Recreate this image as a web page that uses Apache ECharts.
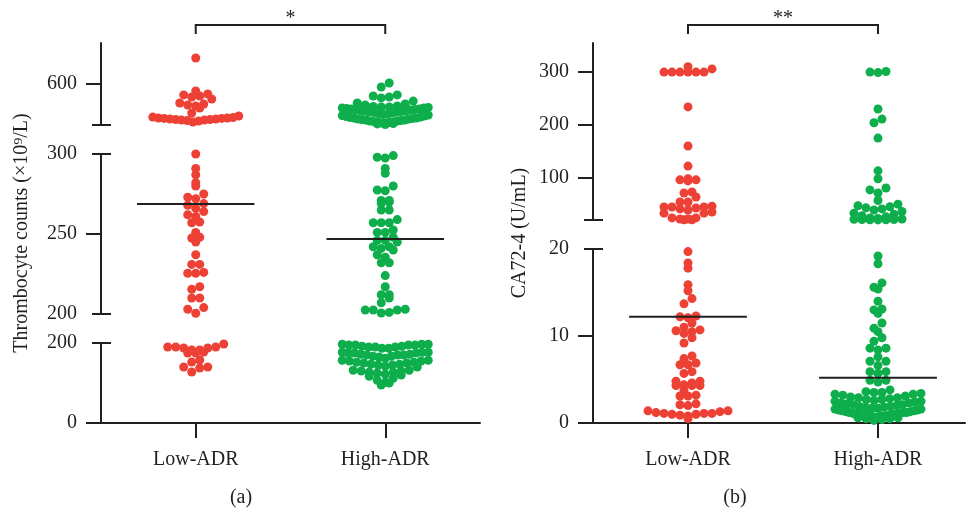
<!DOCTYPE html>
<html><head><meta charset="utf-8">
<script src="https://cdn.jsdelivr.net/npm/echarts@6/dist/echarts.min.js"></script>
<style>html,body{margin:0;padding:0;background:#fff}#c{width:968px;height:512px}</style>
</head><body><div id="c"></div>
<script>
const CATEGORIES = ['Low-ADR', 'High-ADR'];

// Panel (a): thrombocyte counts (x10^9/L)
const A_LOW = [
  790, 549, 527, 520, 512, 505, 490, 461, 454, 446, 439, 424, 388,
  366, 358, 355, 351, 351, 348, 348, 344, 344, 340, 340, 337, 337, 333, 329, 322,
  300, 291, 287, 282, 280, 275, 273, 272, 269, 268, 266, 264, 262, 261, 257.5, 257,
  251, 248, 247.5, 245, 237, 231, 231, 226, 225.5, 225.5, 217, 215.5, 210, 210, 204, 203, 200.5,
  197.5, 190, 190, 190, 187.5, 187.5, 182.5, 182.5, 177.5, 175, 175, 157.5, 152.5, 140, 140, 137.5, 127.5
];
const A_HIGH = [
  607, 578, 520, 512, 505, 498, 475, 461, 454,
  446, 439, 435, 432, 428, 424, 421, 417, 413, 410, 406, 402, 399, 395, 391, 388, 384, 380, 377, 373,
  369, 366, 362, 358, 355, 351, 348, 344, 340, 337, 333, 329, 326, 322, 318, 315, 311, 308, 304,
  432, 424, 417, 410, 402, 395, 351, 344, 337, 329, 322, 315,
  298, 297.5, 299, 291, 288, 280, 277.5, 277, 271, 270, 271, 269, 265, 265, 259, 257, 257, 257,
  252.5, 251, 251, 248, 246, 245, 246, 242, 241, 242, 240, 237, 235.5, 232, 232, 224, 217,
  212, 212, 210, 207, 202.5, 203, 200.6, 201, 202.5, 202.5,
  197, 195, 192, 190, 197, 195, 190, 187, 195, 192, 197, 190, 195, 187,
  177, 175, 170, 172, 167, 177, 175, 170, 165, 172, 175, 167, 170, 177, 162,
  157, 155, 150, 152, 147, 145, 157, 150, 155, 142, 147, 152, 140, 145,
  132, 130, 127, 125, 120, 132, 127, 122, 117, 130,
  107, 112, 102, 100, 95
];
const A_MEDIANS = [268.8, 246.9];

// Panel (b): CA72-4 (U/mL)
const B_LOW = [
  310, 306, 300, 300, 300, 300, 300, 300, 234, 160, 122, 98, 96, 96, 94, 73, 71, 63.5, 54, 54,
  46, 44.6, 44.6, 44.6, 42.7, 41, 39, 35, 33, 33, 24, 24, 22, 22, 20.5, 20.5,
  19.7, 18.4, 17.8, 15.9, 15.2, 14.3, 13.7, 12.3, 12.2, 12.1, 11.5, 11.0, 10.7, 10.6, 10.5, 10.3,
  9.8, 9.2, 7.7, 7.4, 6.9, 6.7, 6.7, 5.9, 5.7, 4.8, 4.8, 4.6, 4.4, 4.3, 4.3, 4.3, 3.8, 3.2, 3.1, 3.1,
  2.2, 2.1, 2.0, 1.4, 1.4, 1.3, 1.2, 1.1, 1.1, 1.1, 1.0, 1.0, 0.9, 0.8, 0.5
];
const B_HIGH = [
  301, 300, 299, 230, 211, 204, 175, 113, 98, 80.6, 77, 71,
  57, 50, 47, 45, 43, 41, 39, 36, 33, 31, 28, 26, 24, 23,
  21.8, 21.5, 21, 20.8, 20.5, 20.5, 20.2,
  19.2, 18.3, 16.1, 15.6, 15.4, 14.0, 13.1, 13.0, 12.6, 11.5, 10.9, 10.5, 9.8, 9.4, 8.6, 8.6, 8.4,
  7.6, 7.1, 7.1, 6.6, 5.9, 5.9, 5.7, 4.9, 4.7, 4.9,
  3.8, 3.6, 3.5, 3.4, 3.3, 3.2, 3.1, 3.0, 3.5, 3.3,
  2.9, 2.8, 2.7, 2.6, 2.5, 2.4, 2.3, 2.2, 2.1, 2.0, 2.9, 2.7, 2.5, 2.3, 2.1,
  1.9, 1.8, 1.7, 1.6, 1.5, 1.4, 1.3, 1.2, 1.1, 1.0, 1.9, 1.7, 1.5, 1.3, 1.1, 1.8, 1.6, 1.4, 1.2, 1.0,
  0.9, 0.8, 0.7, 0.6, 0.5, 0.9, 0.8, 0.7, 0.6, 0.5, 1.0, 0.9, 0.8, 1.1, 1.2, 0.4, 0.3
];
const B_MEDIANS = [12.2, 5.2];

// Tick labels / ticks for each axis segment (top segment first)
const A_TICK_LABELS = [[600], [300, 250, 200], [200, 0]];
const A_MAJOR_TICKS = [[600], [250], [0]];
const A_BREAK_TICKS = [[300], [300, 200], [200]];
const B_TICK_LABELS = [[300, 200, 100], [20, 10, 0]];
const B_MAJOR_TICKS = [[300, 200, 100], [10, 0]];
const B_BREAK_TICKS = [[20], [20]];

const SIGNIF = ['*', '**'];
const Y_NAMES = ['Thrombocyte counts (\u00d710\u2079/L)', 'CA72-4 (U/mL)'];
const CAPTIONS = ['(a)', '(b)'];

const COLORS = ['#EE4136', '#0DAE4B'];
const INK = '#231F20';
const FONT = "'Liberation Serif','DejaVu Serif',serif";
const FS = 20;

const PANELS = [
  { groups: [A_LOW, A_HIGH], medians: A_MEDIANS, left: 101, width: 379, xMin: -0.5, xMax: 1.5,
    segs: [{top: 43, height: 82, min: 300, max: 900}, {top: 154, height: 160, min: 200, max: 300}, {top: 343, height: 80, min: 0, max: 200}],
    labels: A_TICK_LABELS, major: A_MAJOR_TICKS, breaks: A_BREAK_TICKS, nameX: 22, capX: 241 },
  { groups: [B_LOW, B_HIGH], medians: B_MEDIANS, left: 593, width: 372, xMin: -0.5, xMax: 1.458,
    segs: [{top: 43, height: 177, min: 20, max: 355}, {top: 249, height: 174, min: 0, max: 20}],
    labels: B_TICK_LABELS, major: B_MAJOR_TICKS, breaks: B_BREAK_TICKS, nameX: 520, capX: 735 }
];

const grid = [], xAxis = [], yAxis = [], segRefs = [];
PANELS.forEach((P, p) => {
  P.segs.forEach((S, s) => {
    const gi = grid.length;
    grid.push({left: P.left, top: S.top, width: P.width, height: S.height, containLabel: false});
    const isBottom = s === P.segs.length - 1;
    xAxis.push({
      type: 'value', gridIndex: gi, min: P.xMin, max: P.xMax, show: isBottom, position: 'bottom',
      axisLine: {show: true, onZero: false, lineStyle: {color: INK, width: 2}},
      axisTick: {show: true, customValues: [0, 1], length: 15, lineStyle: {color: INK, width: 2}},
      axisLabel: {show: true, customValues: [0, 1], formatter: v => CATEGORIES[Math.round(v)], margin: 27,
        color: INK, fontFamily: FONT, fontSize: FS},
      splitLine: {show: false}
    });
    const yi = yAxis.length;
    yAxis.push({
      type: 'value', gridIndex: gi, min: S.min, max: S.max, position: 'left', offset: 0,
      axisLine: {show: true, onZero: false, lineStyle: {color: INK, width: 2}},
      axisTick: {show: true, customValues: P.major[s], length: 15, lineStyle: {color: INK, width: 2}},
      axisLabel: {show: true, customValues: P.labels[s], margin: 24, color: INK, fontFamily: FONT, fontSize: FS},
      splitLine: {show: false}
    });
    [false, true].forEach(inside => {
      yAxis.push({
        type: 'value', gridIndex: gi, min: S.min, max: S.max, position: 'left', offset: 0,
        axisLine: {show: false, onZero: false},
        axisTick: {show: true, inside: inside, customValues: P.breaks[s], length: inside ? 10 : 9, lineStyle: {color: INK, width: 2}},
        axisLabel: {show: false}, splitLine: {show: false}
      });
    });
    segRefs.push({p, s, gi, yi});
  });
});

function segOf(P, v) {
  for (let s = 0; s < P.segs.length; s++) {
    if (v > P.segs[s].min || s === P.segs.length - 1) return s;
  }
}

// Prism-like scatter layout: dots whose pixel y fall in the same row bin are spread
// horizontally around the category centre (lowest value in the middle), compressed if wide.
function binSwarm(pys, top, binH, step, maxHalf) {
  const bins = new Map();
  pys.forEach((y, i) => {
    const b = Math.floor((y - top) / binH);
    if (!bins.has(b)) bins.set(b, []);
    bins.get(b).push(i);
  });
  const out = new Array(pys.length);
  bins.forEach(list => {
    const n = list.length;
    list.sort((a, b) => pys[b] - pys[a]);
    const s = n > 1 ? Math.min(step, 2 * maxHalf / (n - 1)) : 0;
    const slots = [];
    for (let k = 0; k < n; k++) slots.push((k - (n - 1) / 2) * s);
    slots.sort((a, b) => Math.abs(a) - Math.abs(b) || a - b);
    list.forEach((i, k) => { out[i] = slots[k]; });
  });
  return out;
}

const chart = echarts.init(document.getElementById('c'), null, {renderer: 'canvas'});
chart.setOption({animation: false, backgroundColor: '#fff', grid, xAxis, yAxis, series: []});

const DOT = 9, BIN_H = 8, STEP = 8, MAX_HALF = 43, MED_HALF = 0.31;
const series = [];
PANELS.forEach((P, p) => {
  P.groups.forEach((vals, g) => {
    P.segs.forEach((S, s) => {
      const ref = segRefs.find(r => r.p === p && r.s === s);
      const sv = vals.filter(v => segOf(P, v) === s);
      const pys = sv.map(v => chart.convertToPixel({gridIndex: ref.gi}, [g, v])[1]);
      const ux = chart.convertToPixel({gridIndex: ref.gi}, [1, S.min])[0] - chart.convertToPixel({gridIndex: ref.gi}, [0, S.min])[0];
      const offs = binSwarm(pys, S.top, BIN_H, STEP, MAX_HALF);
      series.push({
        type: 'scatter', xAxisIndex: ref.gi, yAxisIndex: ref.yi, clip: false, z: 2,
        symbolSize: DOT, itemStyle: {color: COLORS[g], opacity: 1},
        data: sv.map((v, i) => [g + offs[i] / ux, v])
      });
    });
    const m = P.medians[g];
    const ref = segRefs.find(r => r.p === p && r.s === segOf(P, m));
    series.push({
      type: 'line', xAxisIndex: ref.gi, yAxisIndex: ref.yi, z: 5, symbol: 'none', silent: true,
      lineStyle: {color: INK, width: 2},
      data: [[g - MED_HALF, m], [g + MED_HALF, m]]
    });
  });
});

const graphic = [];
PANELS.forEach((P, p) => {
  const ref = segRefs.find(r => r.p === p && r.s === P.segs.length - 1);
  const x0 = chart.convertToPixel({gridIndex: ref.gi}, [0, 0])[0];
  const x1 = chart.convertToPixel({gridIndex: ref.gi}, [1, 0])[0];
  graphic.push({type: 'polyline', shape: {points: [[x0, 34], [x0, 25], [x1, 25], [x1, 34]]},
    style: {stroke: INK, lineWidth: 2, fill: null}});
  graphic.push({type: 'text', x: (x0 + x1) / 2, y: 29,
    style: {text: SIGNIF[p], fontFamily: FONT, fontSize: FS, fill: INK, align: 'center', verticalAlign: 'bottom'}});
  graphic.push({type: 'text', x: P.nameX, y: 233, rotation: Math.PI / 2,
    style: {text: Y_NAMES[p], fontFamily: FONT, fontSize: FS, fill: INK, align: 'center', verticalAlign: 'middle'}});
  graphic.push({type: 'text', x: P.capX, y: 498,
    style: {text: CAPTIONS[p], fontFamily: FONT, fontSize: FS, fill: INK, align: 'center', verticalAlign: 'middle'}});
});

chart.setOption({series, graphic});
</script>
</body></html>
